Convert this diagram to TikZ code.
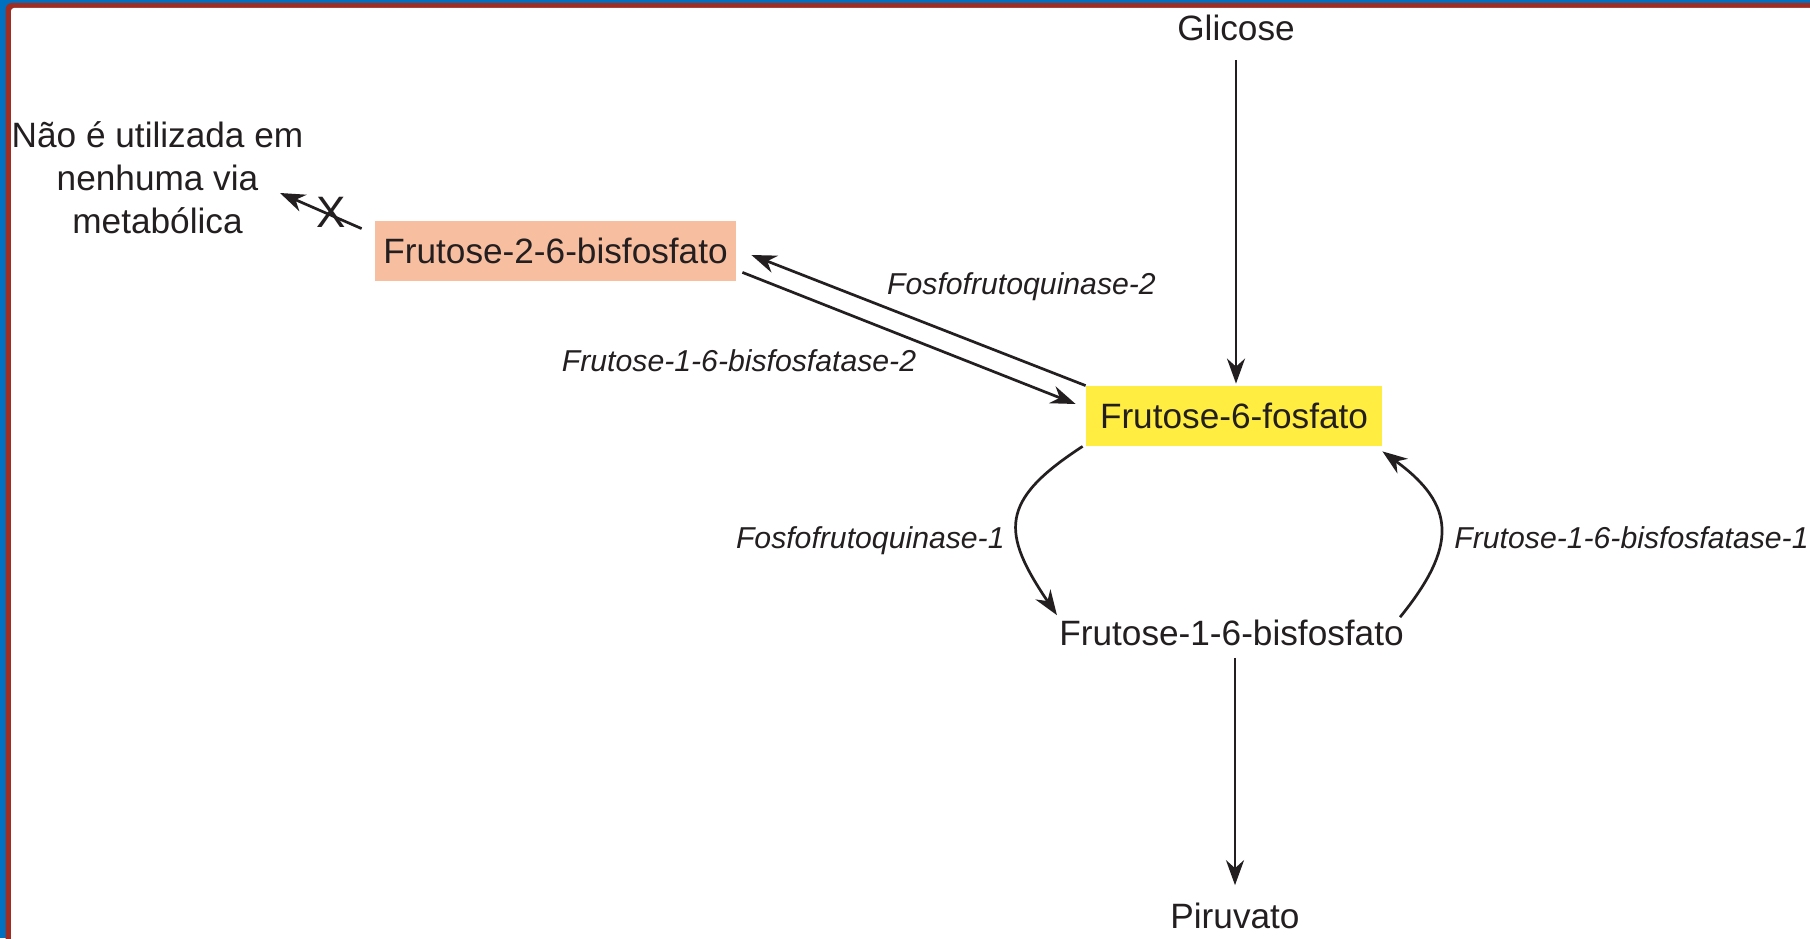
\documentclass[tikz,border=0pt]{standalone}
\usepackage{fontspec}
\setmainfont{Liberation Sans}
\usetikzlibrary{arrows.meta,calc}
\definecolor{Frame_blue}{RGB}{0, 112, 192}
\definecolor{Frame_red}{RGB}{158, 46, 36}
\definecolor{F6P_yellow}{RGB}{255, 237, 65}
\definecolor{F26BP_salmon}{RGB}{248, 190, 160}
\definecolor{Ink}{RGB}{35, 31, 32}

\begin{document}
\begin{tikzpicture}[x=0.5pt, y=0.5pt,
    every node/.style={text=Ink},
    metab/.style={inner sep=0pt, font=\fontsize{17.6pt}{21.5pt}\selectfont},
    metabbox/.style={metab, minimum height=30pt},
    enzyme/.style={inner sep=0pt, font=\fontsize{15.1pt}{18pt}\selectfont\itshape},
    flow/.style={draw=Ink, line width=1.35pt, -{Stealth[length=12.5pt, width=9pt, inset=4pt]}}
]
    %% Background
    \useasboundingbox (0,0) rectangle (1810,938);
    \clip (0,0) rectangle (1810,938);
    \fill[Frame_blue] (0,0) rectangle (1810,938);
    \fill[Frame_red, rounded corners=3pt] (5.7,-40) rectangle (1850,935);
    \fill[white, rounded corners=1.5pt] (11,-40) rectangle (1850,930);

    %% Metabolites
    \node[metab] (glc) at (1236,910.5) {Glicose};
    \node[metabbox, fill=F6P_yellow, minimum width=148pt] (f6p) at (1234,522) {Frutose-6-fosfato};
    \node[metabbox, fill=F26BP_salmon, minimum width=180.5pt] (f26bp) at (555.5,687) {Frutose-2-6-bisfosfato};
    \node[metab] (f16bp) at (1231.5,305.5) {Frutose-1-6-bisfosfato};
    \node[metab] (pir) at (1235,22.5) {Piruvato};
    \node[metab, align=center] (nao) at (157.5,760) {Não é utilizada em\\nenhuma via\\metabólica};

    %% Glycolysis axis
    \draw[flow, shorten <=9.5pt, shorten >=1pt] (glc.south) -- (glc.south |- f6p.north);
    \draw[flow, shorten <=6pt, shorten >=8.5pt] (pir.north |- f16bp.south) -- (pir.north);

    %% Fructose-2,6-bisphosphate
    \draw[flow] (f6p.north west) -- ([shift={(15,-4)}]f26bp.east);
    \draw[flow] ([shift={(6,9)}]f26bp.south east) -- ([shift={(-10,12)}]f6p.west);

    % dead end
    \coordinate (deadend) at (280,745);
    \draw[flow] ([shift={(-13,-8)}]f26bp.north west) -- (deadend);
    \node[inner sep=0pt, font=\fontsize{22pt}{24pt}\selectfont] (block) at (331,725.5) {X};

    %% Fructose-1,6-bisphosphate cycle
    \draw[flow] ([xshift=-1.5pt]f6p.south west) to[out=213, in=124, looseness=1.5] ([shift={(-2,4)}]f16bp.north west);
    \draw[flow] ([shift={(-4,2)}]f16bp.north east) to[out=51, in=-36, looseness=1.4] ([yshift=-2.5pt]f6p.south east);

    %% Enzymes
    \node[enzyme, anchor=base] (pfk2) at (1021.5,643) {Fosfofrutoquinase-2};
    \node[enzyme, anchor=base] (fbp2) at (739,566) {Frutose-1-6-bisfosfatase-2};
    \node[enzyme, anchor=base east] (pfk1) at (1005,389) {Fosfofrutoquinase-1};
    \node[enzyme, anchor=base west] (fbp1) at (1454,389) {Frutose-1-6-bisfosfatase-1};
\end{tikzpicture}
\end{document}
